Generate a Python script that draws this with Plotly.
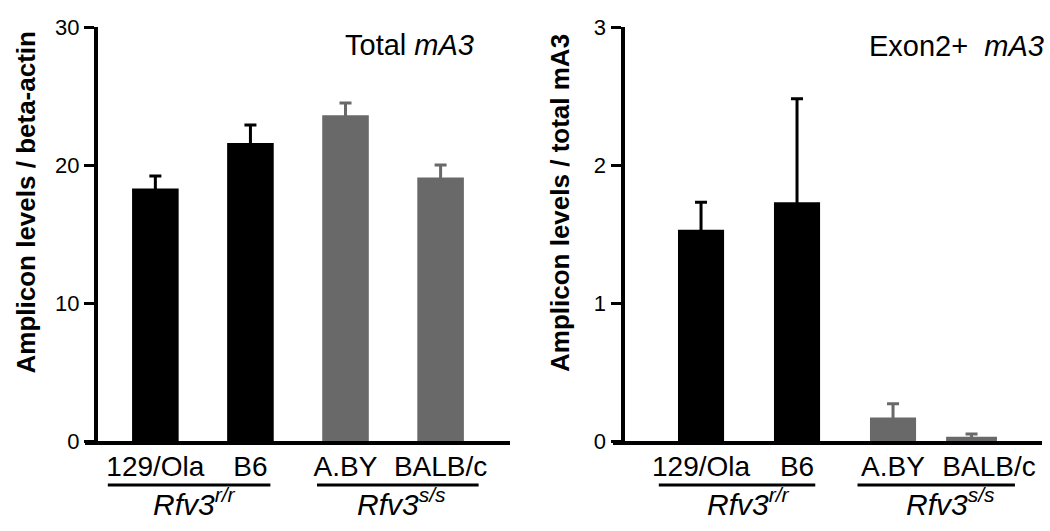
import plotly.graph_objects as go

# ---- data ----
strains = ["129/Ola", "B6", "A.BY", "BALB/c"]
group_rr = ["129/Ola", "B6"]
group_ss = ["A.BY", "BALB/c"]

total_rr = [18.3, 21.6]
total_rr_err = [0.9, 1.3]
total_ss = [23.6, 19.1]
total_ss_err = [0.9, 0.9]

exon_rr = [1.53, 1.73]
exon_rr_err = [0.20, 0.75]
exon_ss = [0.17, 0.03]
exon_ss_err = [0.10, 0.02]

left_ticks = [0, 10, 20, 30]
right_ticks = [0, 1, 2, 3]

# ---- style ----
W, H = 1050, 531
FONT = "Liberation Sans, Arial, Helvetica, sans-serif"
BLACK = "#000000"
GRAY = "#696969"

def px_x(p):
    return p / W

def px_y(p):
    return (H - p) / H

y_dom = [px_y(441), px_y(27)]

fig = go.Figure()

def bar(x, y, err, color, xa, ya, width, offset=None):
    # symmetric error bars: the lower half is hidden inside the same-coloured bar
    kw = dict(x=x, y=y, xaxis=xa, yaxis=ya, width=width,
              marker=dict(color=color, line=dict(width=0)),
              error_y=dict(type="data", array=err, symmetric=True, color=color,
                           thickness=3, width=6),
              showlegend=False, hoverinfo="x+y")
    if offset is not None:
        kw["offset"] = offset
    fig.add_trace(go.Bar(**kw))

bar(group_rr, total_rr, total_rr_err, BLACK, "x", "y", 0.49)
bar(group_ss, total_ss, total_ss_err, GRAY, "x", "y", 0.49)
bar(group_rr, exon_rr, exon_rr_err, BLACK, "x2", "y2", 0.48)
bar(group_ss, exon_ss, exon_ss_err, GRAY, "x2", "y2", [0.48, 0.53], [-0.24, -0.447])

xcommon = dict(type="category", categoryorder="array", categoryarray=strains,
               showline=True, linewidth=4, linecolor=BLACK, ticks="",
               showgrid=False, zeroline=False, automargin=False,
               tickfont=dict(family=FONT, size=28, color=BLACK),
               ticklabelstandoff=-3)
ycommon = dict(showline=True, linewidth=4, linecolor=BLACK, ticks="outside",
               ticklen=10, tickwidth=3, tickcolor=BLACK, showgrid=False,
               zeroline=False, automargin=False, domain=y_dom, anchor="free",
               tickfont=dict(family=FONT, size=22, color=BLACK))

fig.update_layout(
    width=W, height=H,
    margin=dict(l=0, r=0, t=0, b=0),
    paper_bgcolor="white", plot_bgcolor="white",
    barmode="overlay",
    xaxis=dict(xcommon, domain=[px_x(85), px_x(510)], range=[-0.74, 3.73], anchor="y"),
    xaxis2=dict(xcommon, domain=[px_x(613), px_x(1042)], range=[-0.917, 3.552], anchor="y2"),
    yaxis=dict(ycommon, position=px_x(96), range=[0, 30], tickvals=left_ticks),
    yaxis2=dict(ycommon, position=px_x(622.5), range=[0, 3], tickvals=right_ticks),
)

ann = []
def text(x, y, s, size, xref="paper", angle=0):
    ann.append(dict(x=x, y=y, xref=xref, yref="paper", text=s, showarrow=False,
                    textangle=angle, xanchor="center", yanchor="middle",
                    font=dict(family=FONT, size=size, color=BLACK)))

text(px_x(409.5), px_y(45), "Total <i>mA3</i>", 29)
text(px_x(956), px_y(46), "Exon2+  <i>mA3</i>", 29)
text(px_x(25.5), px_y(203), "<b>Amplicon levels / beta-actin</b>", 26, angle=-90)
text(px_x(560), px_y(203), "<b>Amplicon levels / total mA3</b>", 26, angle=-90)

# genotype group labels and underlines
groups = [("x", -0.50, 1.21, 0.41, "<i>Rfv3<sup>r/r</sup></i>"),
          ("x", 1.70, 3.40, 2.59, "<i>Rfv3<sup>s/s</sup></i>"),
          ("x2", -0.44, 1.19, 0.49, "<i>Rfv3<sup>r/r</sup></i>"),
          ("x2", 1.63, 3.27, 2.60, "<i>Rfv3<sup>s/s</sup></i>")]
shapes = []
for xr, x0, x1, xc, lab in groups:
    shapes.append(dict(type="line", xref=xr, yref="paper", x0=x0, x1=x1,
                       y0=px_y(485), y1=px_y(485), line=dict(color=BLACK, width=3)))
    text(xc, px_y(502), lab, 30, xref=xr)

fig.update_layout(annotations=ann, shapes=shapes)
fig.write_html("out.html",
               config={"displayModeBar": False},
               post_script="document.body.style.margin='0';"
                           "document.body.style.overflow='hidden';")
